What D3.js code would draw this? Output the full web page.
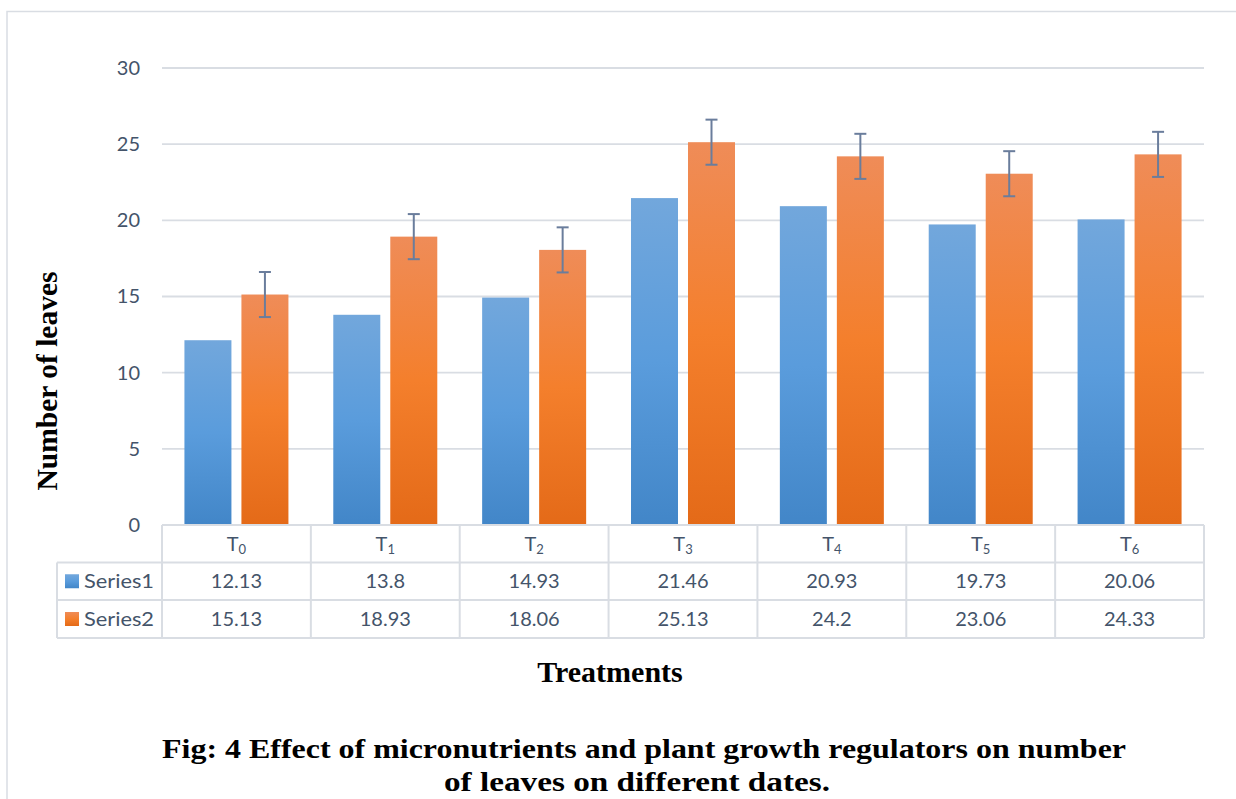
<!DOCTYPE html>
<html><head><meta charset="utf-8">
<script src="https://cdn.jsdelivr.net/npm/d3@7"></script>
<style>body{margin:0;background:#fff}svg{display:block}</style>
</head><body>
<script>
const categories = ["0","1","2","3","4","5","6"];
const seriesNames = ["Series1","Series2"];
const series1 = [12.13, 13.8, 14.93, 21.46, 20.93, 19.73, 20.06];
const series2 = [15.13, 18.93, 18.06, 25.13, 24.2, 23.06, 24.33];
const series2Err = [1.48, 1.48, 1.48, 1.48, 1.48, 1.48, 1.48];
const series1Labels = ["12.13","13.8","14.93","21.46","20.93","19.73","20.06"];
const series2Labels = ["15.13","18.93","18.06","25.13","24.2","23.06","24.33"];
const yTicks = [0,5,10,15,20,25,30];

const W = 1236, H = 799;
const svg = d3.select("body").append("svg").attr("width", W).attr("height", H);
const defs = svg.append("defs");
function grad(id, top, mid, bot){
  const g = defs.append("linearGradient").attr("id", id).attr("x1",0).attr("y1",0).attr("x2",0).attr("y2",1);
  g.append("stop").attr("offset","0%").attr("stop-color",top);
  g.append("stop").attr("offset","50%").attr("stop-color",mid);
  g.append("stop").attr("offset","100%").attr("stop-color",bot);
}
grad("gBlue", "#72a7dc", "#5a9cdc", "#4286c8");
grad("gOrange", "#ef8c58", "#f47f2c", "#e46a18");
const fills = {Series1: "url(#gBlue)", Series2: "url(#gOrange)"};

const textColor = "#44546a";
const lineColor = "#d9dde3";
const font = "Lato, 'Open Sans', sans-serif";
const fs = 20;

// outer frame
svg.append("path").attr("d", `M7,${H+2} L7,11.5 L${W+2},11.5`).attr("fill","none").attr("stroke",lineColor).attr("stroke-width",1.5);

const x0 = 162, x1 = 1204, yTop = 68, yBot = 525;
const x = d3.scaleBand().domain(categories).range([x0, x1]).paddingInner(0).paddingOuter(0);
const y = d3.scaleLinear().domain([0, 30]).range([yBot, yTop]);
const groupW = 104;
const xs = d3.scaleBand().domain(seriesNames).range([0, groupW]).paddingInner(0.1754).paddingOuter(0);
const groupOff = (x.bandwidth() - groupW) / 2;

// gridlines
svg.append("g").selectAll("line").data(yTicks.filter(d => d > 0)).join("line")
  .attr("x1", x0).attr("x2", x1).attr("y1", d => y(d)).attr("y2", d => y(d))
  .attr("stroke", lineColor).attr("stroke-width", 1.8);

// y axis labels
const yAxis = d3.axisLeft(y).tickValues(yTicks).tickSize(0).tickPadding(0);
const ya = svg.append("g").attr("transform", `translate(140,0)`).call(yAxis);
ya.select(".domain").remove();
ya.selectAll("text").attr("font-family", font).attr("font-size", fs).attr("fill", textColor);

// bars
const rows = categories.map((c, i) => ({c, vals: [{s:"Series1", v: series1[i]}, {s:"Series2", v: series2[i], e: series2Err[i]}]}));
const g = svg.append("g").selectAll("g").data(rows).join("g")
  .attr("transform", d => `translate(${x(d.c) + groupOff},0)`);
g.selectAll("rect").data(d => d.vals).join("rect")
  .attr("x", d => xs(d.s)).attr("width", xs.bandwidth())
  .attr("y", d => y(d.v)).attr("height", d => y(0) - y(d.v))
  .attr("fill", d => fills[d.s]);

// error bars
const errCol = "#6a7d9c";
const eb = g.selectAll("g.err").data(d => d.vals.filter(v => v.e != null)).join("g").attr("class","err");
eb.append("line").attr("x1", d => xs(d.s) + xs.bandwidth()/2).attr("x2", d => xs(d.s) + xs.bandwidth()/2)
  .attr("y1", d => y(d.v + d.e)).attr("y2", d => y(d.v - d.e)).attr("stroke", errCol).attr("stroke-width", 2);
eb.selectAll("line.cap").data(d => [d.v + d.e, d.v - d.e].map(t => ({s: d.s, t}))).join("line").attr("class","cap")
  .attr("x1", d => xs(d.s) + xs.bandwidth()/2 - 6).attr("x2", d => xs(d.s) + xs.bandwidth()/2 + 6)
  .attr("y1", d => y(d.t)).attr("y2", d => y(d.t)).attr("stroke", errCol).attr("stroke-width", 2);

// data table
const rowH = [525, 562.5, 600, 638];
const legX0 = 57;
const tg = svg.append("g");
tg.append("line").attr("x1", x0).attr("x2", x1).attr("y1", rowH[0]).attr("y2", rowH[0]).attr("stroke", lineColor).attr("stroke-width", 2);
[1,2,3].forEach(k => tg.append("line").attr("x1", legX0).attr("x2", x1).attr("y1", rowH[k]).attr("y2", rowH[k]).attr("stroke", lineColor).attr("stroke-width", 2));
tg.append("line").attr("x1", legX0).attr("x2", legX0).attr("y1", rowH[1]).attr("y2", rowH[3]).attr("stroke", lineColor).attr("stroke-width", 2);
const vx = categories.map(c => x(c)).concat([x1]);
tg.selectAll("line.v").data(vx).join("line").attr("class","v")
  .attr("x1", d => d).attr("x2", d => d).attr("y1", rowH[0]).attr("y2", rowH[3]).attr("stroke", lineColor).attr("stroke-width", 2);

// category labels with subscripts
const cl = tg.selectAll("text.cat").data(categories).join("text").attr("class","cat")
  .attr("x", d => x(d) + x.bandwidth()/2).attr("y", 551).attr("text-anchor","middle")
  .attr("font-family", font).attr("font-size", fs).attr("fill", textColor);
cl.append("tspan").text("T");
cl.append("tspan").attr("font-size", 13).attr("dy", 3).text(d => d);

// values
const valRows = [series1Labels, series2Labels];
valRows.forEach((arr, k) => {
  tg.selectAll("text.v" + k).data(arr).join("text").attr("class","v"+k)
    .attr("x", (d, i) => x(categories[i]) + x.bandwidth()/2).attr("y", (rowH[k+1] + rowH[k+2]) / 2 + 7)
    .attr("text-anchor","middle").attr("font-family", font).attr("font-size", fs).attr("fill", textColor).text(d => d);
});
// legend
seriesNames.forEach((s, k) => {
  const cy = (rowH[k+1] + rowH[k+2]) / 2;
  tg.append("rect").attr("x", 65).attr("y", cy - 7).attr("width", 14).attr("height", 14).attr("fill", fills[s]);
  tg.append("text").attr("x", 84).attr("y", cy + 7).attr("font-family", font).attr("font-size", fs).attr("fill", textColor)
    .attr("textLength", 70).attr("lengthAdjust","spacingAndGlyphs").text(s);
});

// axis titles
const serif = "'Liberation Serif', 'Times New Roman', serif";
svg.append("text").attr("transform", "translate(57,381) rotate(-90)").attr("text-anchor","middle")
  .attr("font-family", serif).attr("font-weight","bold").attr("font-size", 29.5).attr("fill","#000").text("Number of leaves");
svg.append("text").attr("x", 610).attr("y", 682).attr("text-anchor","middle")
  .attr("font-family", serif).attr("font-weight","bold").attr("font-size", 30).attr("fill","#000").text("Treatments");
svg.append("text").attr("x", 644).attr("y", 758).attr("text-anchor","middle")
  .attr("font-family", serif).attr("font-weight","bold").attr("font-size", 28).attr("fill","#000")
  .attr("textLength", 964).attr("lengthAdjust","spacingAndGlyphs")
  .text("Fig: 4 Effect of micronutrients and plant growth regulators on number");
svg.append("text").attr("x", 637).attr("y", 791).attr("text-anchor","middle")
  .attr("font-family", serif).attr("font-weight","bold").attr("font-size", 28).attr("fill","#000")
  .attr("textLength", 386).attr("lengthAdjust","spacingAndGlyphs")
  .text("of leaves on different dates.");
</script>
</body></html>
